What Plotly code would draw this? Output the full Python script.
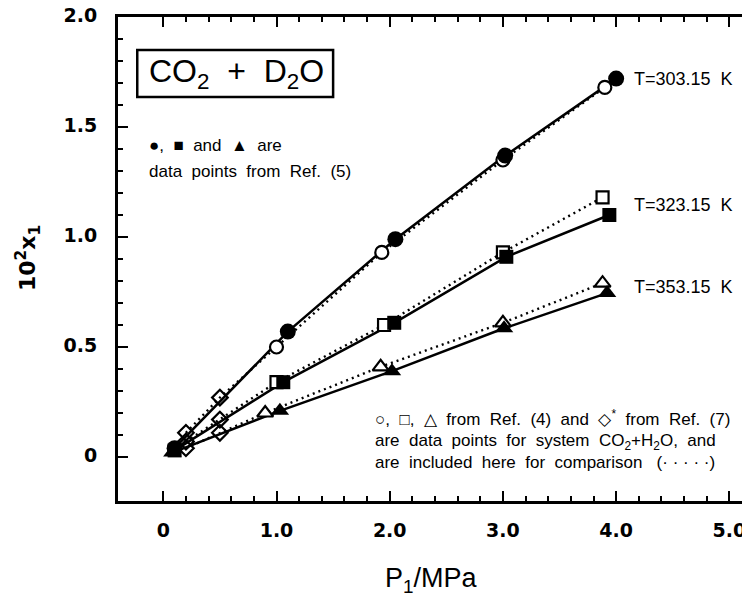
import plotly.graph_objects as go

# ---- data ----
# T = 303.15 K
p303_d2o = [0.10, 1.10, 2.05, 3.02, 4.00]
x303_d2o = [0.04, 0.57, 0.99, 1.37, 1.72]
p303_h2o = [1.00, 1.93, 3.00, 3.90]
x303_h2o = [0.50, 0.93, 1.35, 1.68]
p303_r7 = [0.20, 0.50]
x303_r7 = [0.11, 0.27]

# T = 323.15 K
p323_d2o = [0.10, 1.06, 2.04, 3.03, 3.94]
x323_d2o = [0.03, 0.34, 0.61, 0.91, 1.10]
p323_h2o = [1.00, 1.95, 3.00, 3.88]
x323_h2o = [0.34, 0.60, 0.93, 1.18]
p323_r7 = [0.20, 0.50]
x323_r7 = [0.07, 0.17]

# T = 353.15 K
p353_d2o = [0.08, 1.03, 2.02, 3.01, 3.92]
x353_d2o = [0.02, 0.21, 0.39, 0.585, 0.745]
p353_h2o = [0.90, 1.92, 3.00, 3.88]
x353_h2o = [0.20, 0.41, 0.61, 0.79]
p353_r7 = [0.20, 0.50]
x353_r7 = [0.04, 0.11]

x_tickvals = [0, 1, 2, 3, 4, 5]
x_ticktext = ["0", "1.0", "2.0", "3.0", "4.0", "5.0"]
y_tickvals = [0, 0.5, 1.0, 1.5, 2.0]
y_ticktext = ["0", "0.5", "1.0", "1.5", "2.0"]
x_minor = [0.2 * i for i in range(0, 26)]
y_minor = [0.1 * i for i in range(0, 21)]

FONT = "Liberation Sans, Arial, sans-serif"
BOLDFONT = "DejaVu Sans, Liberation Sans, sans-serif"
BLACK = "black"

fig = go.Figure()

def add_series(p_d, x_d, p_h, x_h, p_r, x_r, filled_sym, open_sym, fsize, osize):
    # dotted line through H2O data (Ref. 7 diamonds + Ref. 4 open symbols)
    ph = p_r + p_h
    xh = x_r + x_h
    fig.add_trace(go.Scatter(x=ph, y=xh, mode="lines",
                             line=dict(color=BLACK, width=2.4, dash="2px,4px"),
                             showlegend=False, hoverinfo="skip"))
    # solid line through D2O data
    fig.add_trace(go.Scatter(x=p_d, y=x_d, mode="lines",
                             line=dict(color=BLACK, width=2.5),
                             showlegend=False, hoverinfo="skip"))
    # Ref. 7 diamonds
    fig.add_trace(go.Scatter(x=p_r, y=x_r, mode="markers",
                             marker=dict(symbol="diamond-open", size=12, color=BLACK,
                                         line=dict(width=2.2, color=BLACK)),
                             showlegend=False))
    # Ref. 4 open symbols
    fig.add_trace(go.Scatter(x=p_h, y=x_h, mode="markers",
                             marker=dict(symbol=open_sym, size=osize, color="white",
                                         line=dict(width=2.2, color=BLACK)),
                             showlegend=False))
    # Ref. 5 filled symbols
    fig.add_trace(go.Scatter(x=p_d, y=x_d, mode="markers",
                             marker=dict(symbol=filled_sym, size=fsize, color=BLACK,
                                         line=dict(width=0)),
                             showlegend=False))

add_series(p303_d2o, x303_d2o, p303_h2o, x303_h2o, p303_r7, x303_r7, "circle", "circle", 16, 13)
add_series(p323_d2o, x323_d2o, p323_h2o, x323_h2o, p323_r7, x323_r7, "square", "square", 14, 12)
add_series(p353_d2o, x353_d2o, p353_h2o, x353_h2o, p353_r7, x353_r7, "triangle-up", "triangle-up", 16, 14)

axis_common = dict(
    showline=True, linecolor=BLACK, linewidth=3, mirror="ticks",
    ticks="inside", ticklen=10, tickwidth=2, tickcolor=BLACK,
    showgrid=False, zeroline=False, automargin=False,
    ticklabeloverflow="allow",
)

fig.update_xaxes(range=[-0.4, 5.2], tickmode="array", tickvals=x_tickvals, ticktext=x_ticktext,
                 minor=dict(tickmode="array", tickvals=x_minor, ticks="inside", ticklen=5,
                            tickwidth=2, tickcolor=BLACK, showgrid=False),
                 tickfont=dict(family=BOLDFONT, size=19, color=BLACK, weight="bold"),
                 ticklabelstandoff=10, **axis_common)
fig.update_yaxes(range=[-0.2, 2.0], tickmode="array", tickvals=y_tickvals, ticktext=y_ticktext,
                 minor=dict(tickmode="array", tickvals=y_minor, ticks="inside", ticklen=5,
                            tickwidth=2, tickcolor=BLACK, showgrid=False),
                 tickfont=dict(family=BOLDFONT, size=19, color=BLACK, weight="bold"),
                 ticklabelstandoff=14, ticklabelshift=-2, **axis_common)

annotations = [
    # title box text
    dict(x=0.645, y=1.743, xref="x", yref="y", text="CO<sub>2</sub>  +  D<sub>2</sub>O",
         showarrow=False, font=dict(family=FONT, size=32, color=BLACK), xanchor="center", yanchor="middle"),
    dict(x=-0.14, y=1.415, xref="x", yref="y", text="●,  ■  and  ▲  are",
         showarrow=False, font=dict(family=FONT, size=17, color=BLACK), xanchor="left", yanchor="middle"),
    dict(x=-0.14, y=1.3, xref="x", yref="y", text="data  points  from  Ref.  (5)",
         showarrow=False, font=dict(family=FONT, size=17, color=BLACK), xanchor="left", yanchor="middle"),
    dict(x=4.14, y=1.72, xref="x", yref="y", text="T=303.15  K",
         showarrow=False, font=dict(family=FONT, size=18, color=BLACK), xanchor="left", yanchor="middle"),
    dict(x=4.14, y=1.145, xref="x", yref="y", text="T=323.15  K",
         showarrow=False, font=dict(family=FONT, size=18, color=BLACK), xanchor="left", yanchor="middle"),
    dict(x=4.14, y=0.773, xref="x", yref="y", text="T=353.15  K",
         showarrow=False, font=dict(family=FONT, size=18, color=BLACK), xanchor="left", yanchor="middle"),
    dict(x=1.85, y=0.177, xref="x", yref="y",
         text="○,  □,  △  from  Ref.  (4)  and  ◇<sup>*</sup>  from  Ref.  (7)",
         showarrow=False, font=dict(family=FONT, size=17, color=BLACK), xanchor="left", yanchor="middle"),
    dict(x=1.85, y=0.068, xref="x", yref="y",
         text="are  data  points  for  system  CO<sub>2</sub>+H<sub>2</sub>O,  and",
         showarrow=False, font=dict(family=FONT, size=17, color=BLACK), xanchor="left", yanchor="middle"),
    dict(x=1.85, y=-0.027, xref="x", yref="y",
         text="are  included  here  for  comparison   (· · · · ·)",
         showarrow=False, font=dict(family=FONT, size=17, color=BLACK), xanchor="left", yanchor="middle"),
    # axis titles
    dict(x=0.495, y=-0.163, xref="paper", yref="paper", text="P<sub>1</sub>/MPa",
         showarrow=False, font=dict(family=FONT, size=27, color=BLACK), xanchor="center", yanchor="middle"),
    dict(x=-0.142, y=0.502, xref="paper", yref="paper", text="10<sup>2</sup>x<sub>1</sub>",
         showarrow=False, textangle=-90, font=dict(family=BOLDFONT, size=22, color=BLACK, weight="bold"),
         xanchor="center", yanchor="middle"),
]

# The page body adds an 8 px offset; margins compensate so the plot sits where the reference has it.
fig.update_layout(
    width=750, height=600,
    margin=dict(l=110, r=6, t=9, b=107),
    paper_bgcolor="white", plot_bgcolor="white",
    showlegend=False,
    annotations=annotations,
    shapes=[dict(type="rect", xref="x", yref="y", x0=-0.23, x1=1.5, y0=1.636, y1=1.85,
                 line=dict(color=BLACK, width=2.5), fillcolor="rgba(0,0,0,0)")],
)

fig.write_html("out.html")
